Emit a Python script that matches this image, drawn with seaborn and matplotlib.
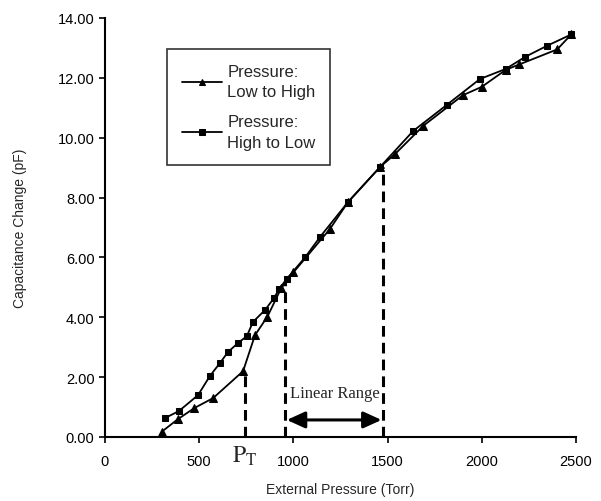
import matplotlib
matplotlib.use("Agg")
import matplotlib.pyplot as plt
import pandas as pd
import seaborn as sns

# Pressure: Low to High (triangles)
low_high_x = [302, 388, 475, 574, 733, 796, 862, 935, 1000, 1194, 1290, 1460,
              1539, 1690, 1900, 2000, 2128, 2200, 2400, 2475]
low_high_y = [0.18, 0.60, 0.97, 1.30, 2.20, 3.40, 4.02, 4.97, 5.50, 6.95, 7.85, 9.02,
              9.45, 10.40, 11.42, 11.70, 12.27, 12.45, 12.95, 13.45]

# Pressure: High to Low (squares)
high_low_x = [318, 393, 494, 557, 610, 653, 706, 753, 785, 849, 897, 924, 964,
              1062, 1141, 1290, 1460, 1635, 1815, 1990, 2128, 2230, 2346, 2475]
high_low_y = [0.63, 0.87, 1.40, 2.04, 2.47, 2.84, 3.14, 3.37, 3.84, 4.24, 4.64, 4.94, 5.28,
              6.00, 6.68, 7.85, 9.02, 10.22, 11.10, 11.96, 12.30, 12.70, 13.07, 13.45]

# annotation positions (Torr / pF)
pt_x, pt_y = 743, 2.20
lin_start, lin_start_y = 955, 5.20
lin_end, lin_end_y = 1476, 9.02
x_ticks = [0, 500, 1000, 1500, 2000, 2500]
y_ticks = [0, 2, 4, 6, 8, 10, 12, 14]

sns.set_style("ticks")
plt.rcParams["font.family"] = ["Liberation Sans", "DejaVu Sans"]
plt.rcParams["mathtext.fontset"] = "stix"

lh = pd.DataFrame({"p": low_high_x, "c": low_high_y})
hl = pd.DataFrame({"p": high_low_x, "c": high_low_y})

fig = plt.figure(figsize=(6.01, 5.02), dpi=100)
ax = fig.add_axes([0.1747, 0.1275, 0.7837, 0.8347])

sns.lineplot(data=lh, x="p", y="c", ax=ax, color="black", lw=1.3, marker="^",
             markersize=6, markeredgecolor="black", label="Pressure:\nLow to High")
sns.lineplot(data=hl, x="p", y="c", ax=ax, color="black", lw=1.3, marker="s",
             markersize=4.5, markeredgecolor="black", label="Pressure:\nHigh to Low")

# dashed guide lines
for xv, yv in [(pt_x, pt_y), (lin_start, lin_start_y), (lin_end, lin_end_y)]:
    ax.plot([xv, xv], [0, yv], color="black", lw=2.2, ls=(0, (3.5, 2)), zorder=1)

# linear range arrow
ax.annotate("", xy=(lin_end - 8, 0.57), xytext=(lin_start + 10, 0.57),
            arrowprops=dict(arrowstyle="<|-|>,head_length=1.1,head_width=0.5",
                            color="black", lw=2.2, shrinkA=0, shrinkB=0))
ax.text((lin_start + lin_end) / 2 + 5, 1.32, "Linear Range", ha="center", va="baseline",
        family="Liberation Serif", fontsize=12)
ax.text(pt_x, -0.84, r"$\mathrm{P}_\mathrm{T}$", ha="center", va="baseline", fontsize=17)

ax.set_xlim(0, 2500)
ax.set_ylim(0, 14)
ax.set_xticks(x_ticks)
ax.set_yticks(y_ticks)
ax.set_yticklabels([f"{v:.2f}" for v in y_ticks])
ax.tick_params(axis="both", labelsize=10.5, length=4, width=1.2, colors="black")
ax.tick_params(axis="x", pad=8)
for s in ["left", "bottom"]:
    ax.spines[s].set_linewidth(1.5)
    ax.spines[s].set_color("black")
sns.despine(ax=ax)

ax.set_xlabel("External Pressure (Torr)", fontsize=10, labelpad=10)
ax.set_ylabel("Capacitance Change (pF)", fontsize=10, labelpad=22)

leg = ax.legend(loc="upper left", bbox_to_anchor=(0.132, 0.926), borderaxespad=0,
                fontsize=12, frameon=True, fancybox=False, edgecolor="black",
                handlelength=2.4, labelspacing=0.9, borderpad=0.9, handletextpad=0.3)
leg.get_frame().set_linewidth(1.2)
for t in leg.get_texts():
    t.set_linespacing(1.45)
for h in leg.legend_handles:
    h.set_markersize(4)

fig.savefig("out.png", dpi=100)
